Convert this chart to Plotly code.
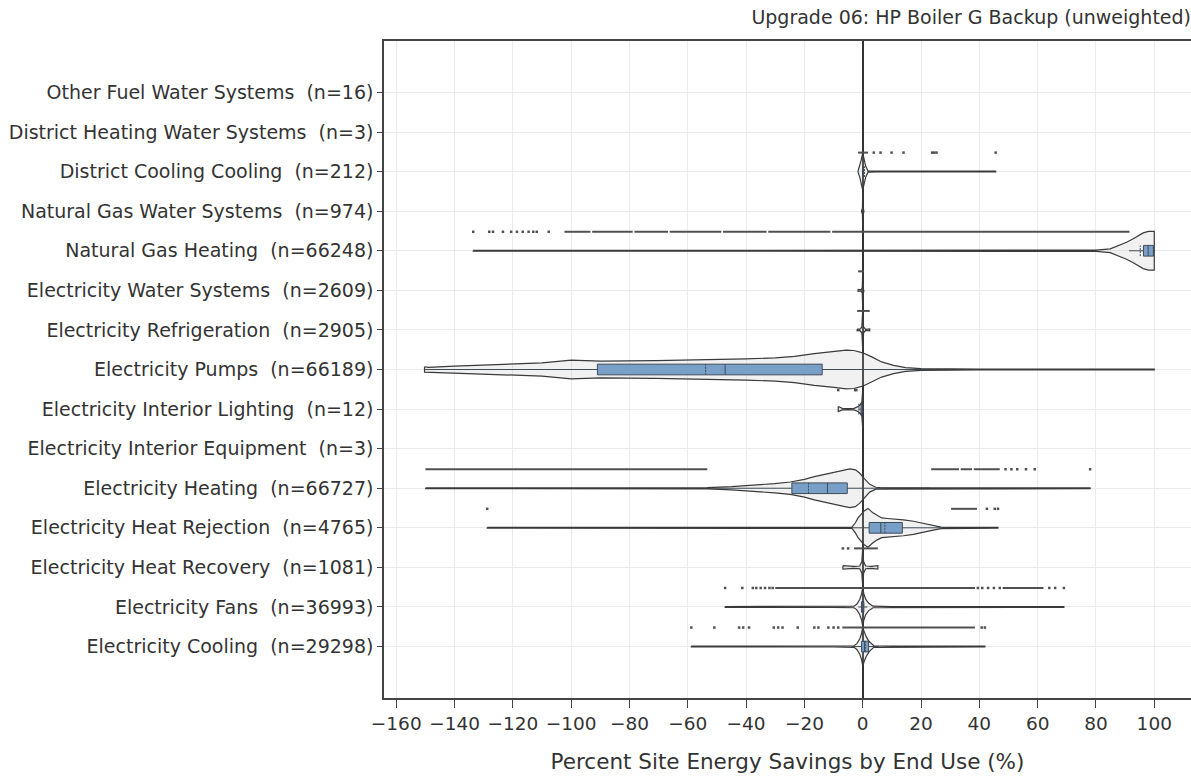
import plotly.graph_objects as go

# End-use categories, bottom to top, with sample counts
end_uses = [
    "Electricity Cooling", "Electricity Fans", "Electricity Heat Recovery",
    "Electricity Heat Rejection", "Electricity Heating",
    "Electricity Interior Equipment", "Electricity Interior Lighting",
    "Electricity Pumps", "Electricity Refrigeration", "Electricity Water Systems",
    "Natural Gas Heating", "Natural Gas Water Systems", "District Cooling Cooling",
    "District Heating Water Systems", "Other Fuel Water Systems",
]
sample_counts = [29298, 36993, 1081, 4765, 66727, 3, 12, 66189, 2905, 2609,
                 66248, 974, 212, 3, 16]

# Violin outlines: savings values (%) and relative density at each value
violin_values = [
    [-58.8, -10, -3, -2, -1, -0.4, 0, 0.5, 1.2, 2.2, 3.8, 10, 41.9],
    [-47.2, -10, -3, -2, -1, -0.4, 0, 0.4, 1, 2, 3.5, 10, 69],
    [-6.8, -5, -3, -1, -0.3, 0, 0.3, 1, 3, 5.2],
    [-128.8, -3.7, -2.5, -1.6, 0.4, 1.8, 3.5, 5, 6.5, 8.5, 10.6, 14, 17.4, 21, 24.2, 26.9, 30, 46.4],
    [-149.9, -53.3, -45, -37, -30.2, -24.8, -20, -16.6, -13, -9.8, -6.5, -4.4, -2.5, -1, 0.5, 2.4, 4.5, 6, 10, 78],
    [],
    [-8.4, -7, -5, -3, -2, -1, -0.3, 0, 0.2],
    [-150.3, -149, -140, -125, -110, -100, -90, -71, -55, -40, -30, -23.4, -16.6, -9.8, -5.7, -3, 0, 3.1, 6.5, 10.6, 14.7, 20, 27, 40, 100],
    [-1.9, -1, -0.3, 0, 0.3, 1, 2.4],
    [-1.6, -0.5, -0.15, 0, 0.15, 0.4],
    [-133.6, 80, 84.9, 88.3, 90.5, 92.8, 94.5, 96.2, 98, 100],
    [-0.4, -0.1, 0, 0.1, 0.4],
    [-1.6, -1, -0.5, -0.2, 0, 0.2, 0.5, 1, 1.8, 5, 45.6],
    [],
    [],
]
violin_density = [
    [0.02, 0.02, 0.04, 0.15, 0.4, 0.67, 1.0, 0.77, 0.51, 0.26, 0.04, 0.02, 0.02],
    [0.02, 0.02, 0.04, 0.15, 0.4, 0.67, 1.0, 0.67, 0.4, 0.2, 0.04, 0.02, 0.02],
    [0.09, 0.06, 0.05, 0.07, 0.3, 1.0, 0.3, 0.07, 0.05, 0.09],
    [0.02, 0.03, 0.26, 0.51, 0.86, 1.0, 0.77, 0.62, 0.51, 0.48, 0.46, 0.41, 0.34, 0.23, 0.12, 0.04, 0.02, 0.02],
    [0.02, 0.03, 0.08, 0.15, 0.24, 0.32, 0.46, 0.6, 0.72, 0.84, 0.94, 1.0, 0.95, 0.77, 0.51, 0.2, 0.05, 0.03, 0.02, 0.02],
    [],
    [0.13, 0.04, 0.03, 0.04, 0.1, 0.2, 0.36, 1.0, 0.1],
    [0.14, 0.11, 0.17, 0.26, 0.34, 0.48, 0.43, 0.46, 0.49, 0.55, 0.6, 0.68, 0.82, 0.92, 1.0, 0.98, 0.86, 0.65, 0.39, 0.21, 0.1, 0.05, 0.03, 0.02, 0.02],
    [0.05, 0.03, 0.15, 1.0, 0.15, 0.03, 0.05],
    [0.05, 0.03, 0.15, 1.0, 0.15, 0.05],
    [0.02, 0.03, 0.1, 0.29, 0.44, 0.62, 0.79, 0.92, 1.0, 1.0],
    [0.03, 0.15, 1.0, 0.15, 0.03],
    [0.03, 0.3, 0.6, 0.82, 0.95, 0.82, 0.6, 0.3, 0.03, 0.02, 0.02],
    [],
    [],
]

# Inner box statistics (category index, quartiles, whisker ends, mean)
box_pos = [0, 1, 3, 4, 6, 7, 10, 12]
box_q1 = [-0.4, -0.4, 2.2, -24.3, -0.6, -91.0, 96.3, 0.0]
box_median = [0.6, 0.0, 6.2, -12.1, -0.1, -47.2, 97.9, 0.0]
box_q3 = [2.0, 0.4, 13.6, -5.3, 0.0, -13.9, 99.7, 0.1]
box_low = [-3.9, -1.5, -3.7, -53.2, -1.5, -150.3, 91.3, -0.1]
box_high = [5.5, 1.6, 29.8, 23.2, 0.2, 100.0, 100.0, 0.2]
box_mean = [0.9, 0.2, 7.6, -18.6, -1.3, -53.9, 95.2, 0.6]

# Outliers: isolated values and densely packed runs [start, end]
outlier_points = [
    [-58.8, -50.9, -42.4, -41, -39, -30.5, -29, -27.5, -22.3, -16.6, -15.2, -11.8, -10, -8.4, 40.8, 41.9],
    [-47.2, -41.3, -37.7, -36.5, -35, -33.5, -32, -30.9, 39.5, 41, 43, 45, 47, 64, 66, 69],
    [-6.8, -5],
    [-128.8, 42.6, 45.3, 46.4],
    [49, 51, 53, 56, 59, 78],
    [],
    [-8.4, -2.6, -2.2],
    [],
    [],
    [],
    [-133.6, -128.1, -126.8, -123.4, -120.6, -118.6, -116.6, -114.6, -113, -111.8, -107.7],
    [],
    [3.8, 6.1, 9.9, 14, 23.8, 24.5, 25.3, 45.6],
    [],
    [],
]
outlier_runs = [
    [[-7, 38.5]],
    [[-30, 38.5], [48, 62]],
    [[-3, 5.2]],
    [[30.3, 39.2]],
    [[-150, -53.3], [23.5, 33], [33.6, 37.5], [38.1, 47]],
    [],
    [],
    [],
    [[-1.9, 2.4]],
    [[-1.6, 0.4]],
    [[-102.3, -93.4], [-92.8, -78.9], [-78.3, -66.8], [-66.2, -48.5], [-47.9, -33], [-32.4, -11.1], [-10.5, 91.5]],
    [],
    [[-1.6, 1.8]],
    [],
    [],
]

x_ticks = list(range(-160, 101, 20))

HALF_WIDTH = 0.49      # widest violin half-width, in category units
POINT_ROW = 0.48       # outlier row offset above each violin
OUTLINE = "#3a3a3a"
FONT = "DejaVu Sans"

fig = go.Figure()

for i, (vals, dens) in enumerate(zip(violin_values, violin_density)):
    if not vals:
        continue
    xs = list(vals) + list(reversed(vals)) + [vals[0]]
    ys = ([i + HALF_WIDTH * d for d in dens]
          + [i - HALF_WIDTH * d for d in reversed(dens)]
          + [i + HALF_WIDTH * dens[0]])
    fig.add_trace(go.Scatter(
        x=xs, y=ys, mode="lines", fill="toself",
        fillcolor="rgba(190,190,190,0.22)",
        line=dict(color=OUTLINE, width=1.2),
        hoverinfo="skip", showlegend=False,
    ))

fig.add_trace(go.Box(
    y=box_pos, q1=box_q1, median=box_median, q3=box_q3,
    lowerfence=box_low, upperfence=box_high, mean=box_mean,
    orientation="h", boxmean=True, boxpoints=False, width=0.27,
    whiskerwidth=0, fillcolor="#6597ca",
    line=dict(color="#1d2b3a", width=1),
    hoverinfo="skip", showlegend=False,
))

for i, runs in enumerate(outlier_runs):
    for lo, hi in runs:
        fig.add_trace(go.Scatter(
            x=[lo, hi], y=[i + POINT_ROW, i + POINT_ROW], mode="lines",
            line=dict(color="#505050", width=2),
            hoverinfo="skip", showlegend=False,
        ))
for i, pts in enumerate(outlier_points):
    if not pts:
        continue
    fig.add_trace(go.Scatter(
        x=pts, y=[i + POINT_ROW] * len(pts), mode="markers",
        marker=dict(symbol="square", size=2.5, color="#505050"),
        hoverinfo="skip", showlegend=False,
    ))

tick_text = [f"{name} \u00a0(n={n})" for name, n in zip(end_uses, sample_counts)]

fig.update_layout(
    width=1191, height=776,
    margin=dict(l=384, r=0, t=41, b=78),
    paper_bgcolor="white", plot_bgcolor="white",
    font=dict(family=FONT, size=18.5, color="#333333"),
    title=dict(
        text="Upgrade 06: HP Boiler G Backup (unweighted)",
        x=1, xanchor="right", xref="paper",
        y=0.977, yanchor="middle", yref="container",
        font=dict(family=FONT, size=19, color="#333333"),
    ),
    showlegend=False,
)
fig.update_xaxes(
    range=[-164.2, 112.6], tickvals=x_ticks,
    ticks="outside", ticklen=8, tickwidth=1.2, tickcolor="#444444",
    showgrid=True, gridcolor="#ebebeb", gridwidth=1,
    zeroline=True, zerolinecolor="#333333", zerolinewidth=1.6,
    showline=True, linecolor="#444444", linewidth=1.5, mirror=True,
    tickfont=dict(size=18.5),
    title=dict(text="Percent Site Energy Savings by End Use (%)",
               font=dict(size=21.5), standoff=21),
)
fig.update_yaxes(
    range=[-1.3, 15.3], tickvals=list(range(len(end_uses))), ticktext=tick_text,
    ticks="outside", ticklen=5, tickwidth=1.2, tickcolor="#444444",
    showgrid=True, gridcolor="#ebebeb", gridwidth=1, zeroline=False,
    showline=True, linecolor="#444444", linewidth=1.5,
    tickfont=dict(size=19),
)

fig.write_html("out.html")
